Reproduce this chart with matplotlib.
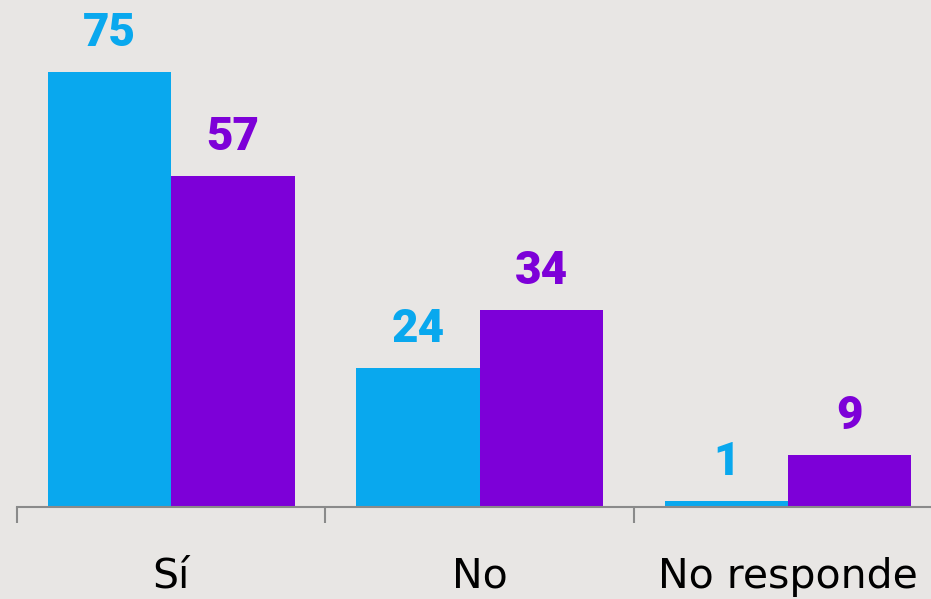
import matplotlib.pyplot as plt
import numpy as np

categories = ['Sí', 'No', 'No responde']
serie_a = [75, 24, 1]
serie_b = [57, 34, 9]

azul = '#09A8EE'
morado = '#7D00D8'
fondo = '#E8E6E4'

plt.rcParams['font.family'] = ['Roboto', 'DejaVu Sans']

fig = plt.figure(figsize=(9.31, 5.99), dpi=100, facecolor=fondo)
ax = fig.add_axes([17/931, 92/599, 925/931, 507/599])
ax.set_facecolor(fondo)

x = np.arange(len(categories))
w = 0.4
b1 = ax.bar(x - w/2, serie_a, w, color=azul)
b2 = ax.bar(x + w/2, serie_b, w, color=morado)

for bars, col in [(b1, azul), (b2, morado)]:
    for b in bars:
        ax.annotate(str(int(b.get_height())),
                    (b.get_x() + b.get_width()/2, b.get_height()),
                    xytext=(0, 18.7), textcoords='offset points',
                    ha='center', va='baseline', color=col,
                    fontsize=33, fontweight='black')

ax.set_xlim(-0.5, 2.5)
ax.set_ylim(0, 87.4)

for s in ['top', 'right', 'left']:
    ax.spines[s].set_visible(False)
ax.spines['bottom'].set_color('#8a8a8a')
ax.spines['bottom'].set_linewidth(1.5)

ax.set_yticks([])
ax.set_xticks(x)
ax.set_xticklabels(categories, fontsize=29.5, color='black', family='DejaVu Sans')
ax.tick_params(axis='x', which='major', length=0, pad=36)
ax.set_xticks([-0.5, 0.5, 1.5, 2.5], minor=True)
ax.tick_params(axis='x', which='minor', length=11.5, width=1.5, color='#8a8a8a')

fig.savefig('out.png', dpi=100, facecolor=fondo)
